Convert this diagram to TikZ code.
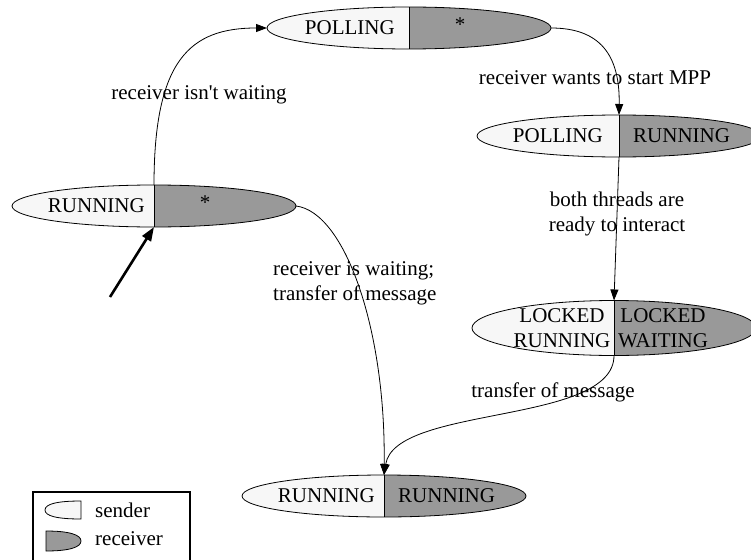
\documentclass[tikz,border=0pt]{standalone}
\usepackage{fontspec}
\setmainfont{Liberation Serif}
\usetikzlibrary{arrows.meta,shapes.geometric,calc}
\definecolor{sendfill}{HTML}{F7F7F7}
\definecolor{recvfill}{HTML}{999999}
\tikzset{
  state/.style={ellipse, draw, line width=0.8pt, inner sep=0pt, outer sep=0pt,
    minimum width=284pt, minimum height=#1,
    path picture={
      \fill[sendfill] (path picture bounding box.south west) rectangle (path picture bounding box.north);
      \fill[recvfill] (path picture bounding box.south) rectangle (path picture bounding box.north east);
      \draw[line width=0.8pt] (path picture bounding box.south) -- (path picture bounding box.north);
    }},
  state/.default=42pt,
  lbl/.style={inner sep=0pt, font=\fontsize{21}{25}\selectfont},
  txt/.style={inner sep=0pt, font=\fontsize{21}{25}\selectfont, align=left},
  trans/.style={line width=0.8pt, -{Triangle[length=11pt,width=8pt]}},
}
\begin{document}
\begin{tikzpicture}[x=1pt,y=-1pt]
\useasboundingbox (0,0) rectangle (751,559);
\clip (0,0) rectangle (751,559);
\fill[white] (0,0) rectangle (751,559);

% states: sender half on the left, receiver half on the right
\node[state] (PS) at (409,28) {};
\node[lbl, anchor=east] (PSl) at ($(PS.center)+(-14,0)$) {POLLING};
\node[lbl] (PSr) at ($(PS.center)+(51,-3)$) {*};

\node[state] (RS) at (154,206) {};
\node[lbl, anchor=east] (RSl) at ($(RS.center)+(-9,0)$) {RUNNING};
\node[lbl] (RSr) at ($(RS.center)+(51,-3)$) {*};

\node[state] (PR) at (619,136) {};
\node[lbl, anchor=east] (PRl) at ($(PR.center)+(-16,0)$) {POLLING};
\node[lbl, anchor=west] (PRr) at ($(PR.center)+(14,0)$) {RUNNING};

\node[state=55pt] (LK) at (614,328) {};
\node[lbl, align=center] (LKl) at ($(LK.center)+(-52,0)$) {LOCKED\\RUNNING};
\node[lbl, align=center] (LKr) at ($(LK.center)+(49,0)$) {LOCKED\\WAITING};

\node[state] (RR) at (384,496) {};
\node[lbl, anchor=east] (RRl) at ($(RR.center)+(-9,0)$) {RUNNING};
\node[lbl, anchor=west] (RRr) at ($(RR.center)+(14,0)$) {RUNNING};

% transitions
\draw[trans] (RS.north) .. controls (154,60) and (190,28) .. (PS.west);
\draw[trans] (PS.east) .. controls (600,28) and (620,55) .. (PR.north);
\draw[trans] (PR.south) -- (LK.north);
\draw[trans] (LK.south) .. controls (614,425) and (395,405) .. (RR.north);
\draw[trans] (RS.east) .. controls (345,212) and (386,330) .. (RR.north);

% initial state marker
\coordinate (init) at (110,297);
\draw[line width=2.6pt, -{Triangle[length=14pt,width=10pt]}] (init) -- (RS.south);

% transition labels
\node[txt] (t1) at (199,95) {receiver isn\textquotesingle t waiting};
\node[txt] (t2) at (595,78) {receiver wants to start MPP};
\node[txt, align=center] (t3) at (617,214) {both threads are\\ready to interact};
\node[txt, anchor=west] (t4) at (273,283) {receiver is waiting;\\transfer of message};
\node[txt] (t5) at (553,392) {transfer of message};

% legend
\draw[line width=2pt] (33,492) rectangle (190,575);
\filldraw[fill=sendfill, line width=0.8pt] (81,501) .. controls (57,501) and (45,504) .. (45,510)
  .. controls (45,516) and (57,519) .. (81,519) -- cycle;
\filldraw[fill=recvfill, line width=0.8pt] (46,531) .. controls (70,531) and (81,535) .. (81,541)
  .. controls (81,547) and (70,551) .. (46,551) -- cycle;
\node[txt, anchor=west] (ls) at (95,510) {sender};
\node[txt, anchor=west] (lr) at (95,539) {receiver};
\end{tikzpicture}
\end{document}
